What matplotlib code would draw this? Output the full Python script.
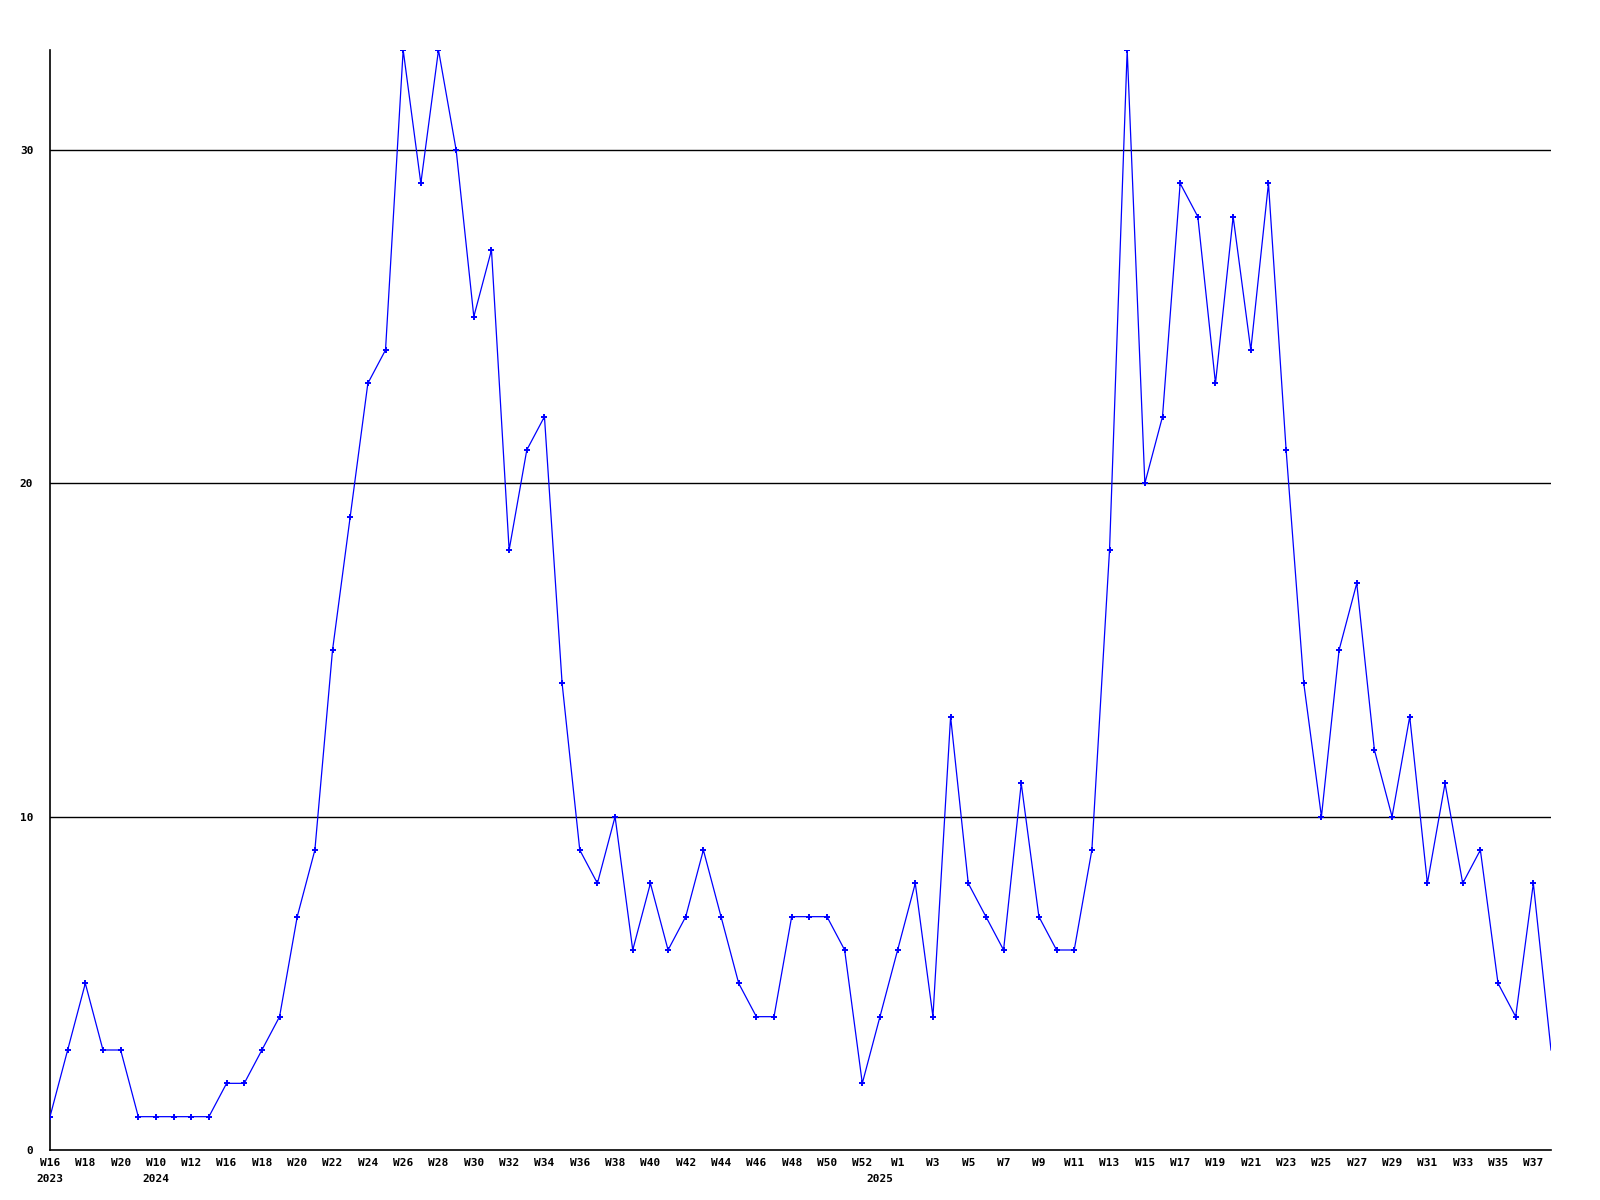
import matplotlib
matplotlib.use("Agg")
import matplotlib.pyplot as plt

# weekly counts, one value per point
valores = [1, 3, 5, 3, 3, 1, 1, 1, 1, 1,
           2, 2, 3, 4, 7, 9, 15, 19, 23, 24,
           33, 29, 33, 30, 25, 27, 18, 21, 22, 14,
           9, 8, 10, 6, 8, 6, 7, 9, 7, 5,
           4, 4, 7, 7, 7, 6, 2, 4, 6, 8,
           4, 13, 8, 7, 6, 11, 7, 6, 6, 9,
           18, 33, 20, 22, 29, 28, 23, 28, 24, 29,
           21, 14, 10, 15, 17, 12, 10, 13, 8, 11,
           8, 9, 5, 4, 8, 3]

# week labels shown on every second point
etiquetas = ["W16", "W18", "W20", "W10", "W12", "W16", "W18", "W20", "W22", "W24",
             "W26", "W28", "W30", "W32", "W34", "W36", "W38", "W40", "W42", "W44",
             "W46", "W48", "W50", "W52", "W1", "W3", "W5", "W7", "W9", "W11",
             "W13", "W15", "W17", "W19", "W21", "W23", "W25", "W27", "W29", "W31",
             "W33", "W35", "W37"]

# year shown under the first point of each year
anio_pos = [0, 6, 47]
anio_txt = ["2023", "2024", "2025"]

y_ticks = [0, 10, 20, 30]

n = len(valores)
x = list(range(n))

fig = plt.figure(figsize=(16, 12), dpi=100)
ax = fig.add_axes([50 / 1600, 1 - 1150 / 1200, 1501 / 1600, 1100 / 1200])

for v in y_ticks[1:]:
    ax.axhline(v, color="black", linewidth=1.0, zorder=1)

ax.plot(x, valores, color="#0000ff", linewidth=0.9, marker="+",
        markersize=5, markeredgewidth=1.4, markevery=list(range(n - 1)), zorder=3)

ax.set_xlim(0, n - 1)
ax.set_ylim(0, 33)
ax.set_yticks(y_ticks)
ax.set_yticklabels([str(v) for v in y_ticks])
ax.set_xticks(list(range(0, n, 2))[:len(etiquetas)])
ax.set_xticklabels(etiquetas)
ax.xaxis.remove_overlapping_locs = False
ax.set_xticks(anio_pos, minor=True)
ax.set_xticklabels(anio_txt, minor=True)

for t in (ax.get_xticklabels() + ax.get_yticklabels()
          + ax.get_xticklabels(minor=True)):
    t.set_fontfamily("DejaVu Sans Mono")
    t.set_fontweight("bold")
    t.set_fontsize(8)

ax.tick_params(axis="both", which="both", length=0)
ax.tick_params(axis="x", which="major", pad=6)
ax.tick_params(axis="x", which="minor", pad=17)
ax.tick_params(axis="y", pad=12)
for s in ["top", "right"]:
    ax.spines[s].set_visible(False)
for s in ["left", "bottom"]:
    ax.spines[s].set_linewidth(1.2)
    ax.spines[s].set_color("black")

fig.savefig("out.png", dpi=100)
